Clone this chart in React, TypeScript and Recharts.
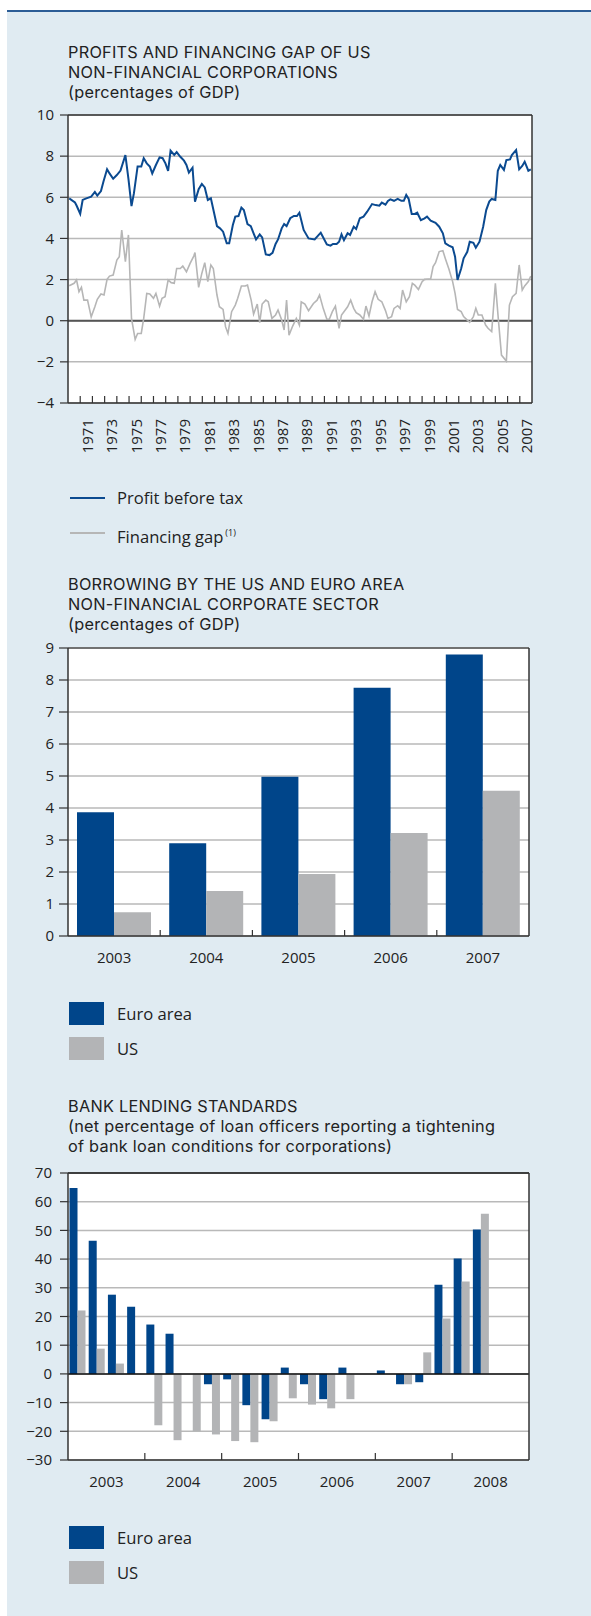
import React from "react";
import {
  LineChart,
  Line,
  BarChart,
  Bar,
  XAxis,
  YAxis,
  CartesianGrid,
  ReferenceLine,
} from "recharts";

const FONT = '"Open Sans", "Noto Sans", sans-serif';
const TITLE_FONT = 'Inter, "Open Sans", sans-serif';
const TEXT = "#222";
const BG = "#e0ebf2";
const BLUE = "#00458a";
const BAR_GREY = "#b3b4b6";
const LINE_BLUE = "#0b4a90";
const LINE_GREY = "#b6b6b6";
const GRID = "#b9b9b9";
const AXIS = "#333";

// chart 1: profits / financing gap, [year, % of GDP]
const PROFIT_POINTS: [number, number][] = [
  [1970.1, 5.95], [1970.57, 5.75], [1970.7, 5.6], [1971.0, 5.2], [1971.2, 5.87], [1971.5, 5.95],
  [1971.9, 6.03], [1972.2, 6.26], [1972.4, 6.08], [1972.7, 6.3], [1972.9, 6.76], [1973.2, 7.36],
  [1973.4, 7.16], [1973.7, 6.9], [1974.0, 7.08], [1974.3, 7.3], [1974.7, 8.05], [1974.95, 6.9],
  [1975.2, 5.57], [1975.4, 6.2], [1975.7, 7.5], [1976.0, 7.5], [1976.2, 7.9], [1976.45, 7.65],
  [1976.7, 7.5], [1976.9, 7.16], [1977.2, 7.57], [1977.5, 7.94], [1977.75, 7.9], [1977.98, 7.65],
  [1978.2, 7.28], [1978.4, 8.27], [1978.7, 8.06], [1978.9, 8.2], [1979.2, 7.97], [1979.5, 7.78],
  [1979.7, 7.57], [1979.9, 7.2], [1980.2, 7.44], [1980.4, 5.79], [1980.7, 6.39], [1980.96, 6.65],
  [1981.2, 6.48], [1981.45, 5.87], [1981.7, 5.95], [1982.2, 4.6], [1982.45, 4.49], [1982.7, 4.33],
  [1983.0, 3.76], [1983.2, 3.76], [1983.5, 4.65], [1983.7, 5.06], [1983.96, 5.09], [1984.2, 5.5],
  [1984.4, 5.38], [1984.7, 4.7], [1984.97, 4.6], [1985.2, 4.25], [1985.4, 3.95], [1985.7, 4.2],
  [1985.9, 4.05], [1986.2, 3.22], [1986.5, 3.19], [1986.75, 3.3], [1987.0, 3.73], [1987.2, 3.95],
  [1987.5, 4.49], [1987.7, 4.7], [1987.9, 4.6], [1988.2, 4.98], [1988.5, 5.09], [1988.75, 5.09],
  [1988.95, 5.25], [1989.3, 4.41], [1989.7, 4.0], [1990.2, 3.95], [1990.7, 4.28], [1991.2, 3.71],
  [1991.5, 3.65], [1991.7, 3.73], [1992.0, 3.73], [1992.2, 3.84], [1992.4, 4.2], [1992.6, 3.92],
  [1992.9, 4.25], [1993.1, 4.17], [1993.4, 4.57], [1993.6, 4.46], [1993.9, 4.98], [1994.2, 5.06],
  [1994.5, 5.3], [1994.9, 5.67], [1995.2, 5.62], [1995.5, 5.59], [1995.7, 5.74], [1996.0, 5.64],
  [1996.2, 5.82], [1996.4, 5.9], [1996.7, 5.83], [1997.0, 5.92], [1997.3, 5.83], [1997.5, 5.83],
  [1997.7, 6.11], [1997.9, 5.92], [1998.15, 5.19], [1998.4, 5.19], [1998.6, 5.25], [1998.9, 4.89],
  [1999.2, 4.98], [1999.4, 5.06], [1999.7, 4.86], [2000.1, 4.76], [2000.4, 4.57], [2000.7, 4.25],
  [2000.9, 3.76], [2001.2, 3.65], [2001.5, 3.57], [2001.7, 3.11], [2001.9, 1.98], [2002.2, 2.54],
  [2002.4, 3.03], [2002.7, 3.35], [2002.9, 3.84], [2003.2, 3.79], [2003.4, 3.55], [2003.7, 3.84],
  [2004.0, 4.57], [2004.25, 5.38], [2004.5, 5.79], [2004.7, 5.92], [2005.0, 5.87], [2005.2, 7.29],
  [2005.4, 7.57], [2005.7, 7.33], [2005.9, 7.81], [2006.2, 7.84], [2006.35, 8.05], [2006.7, 8.3],
  [2006.95, 7.36], [2007.2, 7.52], [2007.4, 7.73], [2007.7, 7.29], [2007.9, 7.36],
];

const GAP_POINTS: [number, number][] = [
  [1970.1, 1.7], [1970.5, 1.82], [1970.7, 1.98], [1970.9, 1.41], [1971.1, 1.62], [1971.3, 1.0],
  [1971.6, 1.0], [1971.9, 0.19], [1972.2, 0.68], [1972.4, 1.04], [1972.7, 1.3], [1972.95, 1.25],
  [1973.2, 2.01], [1973.4, 2.17], [1973.7, 2.22], [1974.0, 2.95], [1974.2, 3.11], [1974.4, 4.41],
  [1974.7, 2.87], [1974.95, 4.17], [1975.2, 0.11], [1975.5, -0.91], [1975.7, -0.62], [1976.0, -0.62],
  [1976.2, 0.11], [1976.45, 1.33], [1976.7, 1.3], [1977.0, 1.09], [1977.2, 1.33], [1977.5, 0.71],
  [1977.7, 1.09], [1977.95, 1.17], [1978.2, 1.98], [1978.45, 1.85], [1978.7, 1.82], [1978.9, 2.54],
  [1979.2, 2.54], [1979.4, 2.66], [1979.7, 2.38], [1980.0, 2.79], [1980.3, 3.14], [1980.4, 3.31],
  [1980.7, 1.62], [1980.96, 2.3], [1981.2, 2.82], [1981.45, 1.9], [1981.7, 2.71], [1981.9, 2.54],
  [1982.2, 1.25], [1982.4, 0.68], [1982.7, 0.55], [1982.9, -0.29], [1983.1, -0.62], [1983.4, 0.44],
  [1983.7, 0.76], [1983.9, 1.09], [1984.2, 1.69], [1984.5, 1.69], [1984.7, 1.73], [1985.0, 1.0],
  [1985.2, 0.32], [1985.5, 0.81], [1985.7, -0.1], [1985.9, 0.81], [1986.2, 1.0], [1986.4, 0.92],
  [1986.7, 0.11], [1987.0, 0.28], [1987.2, 0.52], [1987.5, 0.03], [1987.7, -0.45], [1987.9, 1.0],
  [1988.1, -0.7], [1988.4, -0.26], [1988.7, 0.11], [1988.95, -0.21], [1989.1, 0.92], [1989.4, 0.81],
  [1989.7, 0.49], [1990.1, 0.84], [1990.4, 1.0], [1990.6, 1.25], [1990.9, 0.6], [1991.2, 0.07],
  [1991.4, 0.07], [1991.65, 0.44], [1991.9, 0.71], [1992.2, -0.37], [1992.4, 0.28], [1992.6, 0.44],
  [1992.9, 0.68], [1993.15, 1.0], [1993.4, 0.6], [1993.6, 0.39], [1993.9, 0.28], [1994.2, 0.07],
  [1994.4, 0.71], [1994.65, 0.23], [1994.9, 0.92], [1995.15, 1.41], [1995.4, 1.04], [1995.7, 0.92],
  [1996.0, 0.49], [1996.2, 0.11], [1996.5, 0.2], [1996.7, 0.6], [1997.0, 0.73], [1997.2, 0.6],
  [1997.4, 1.49], [1997.7, 0.92], [1997.96, 1.17], [1998.2, 1.82], [1998.4, 1.73], [1998.7, 1.52],
  [1999.0, 1.9], [1999.2, 2.01], [1999.5, 2.03], [1999.7, 2.03], [1999.9, 2.63], [2000.1, 2.82],
  [2000.4, 3.36], [2000.7, 3.4], [2000.9, 3.03], [2001.2, 2.5], [2001.5, 1.9], [2001.7, 1.33],
  [2001.9, 0.55], [2002.2, 0.44], [2002.4, 0.2], [2002.7, 0.03], [2002.9, -0.08], [2003.2, 0.2],
  [2003.4, 0.6], [2003.6, 0.28], [2003.9, 0.28], [2004.2, -0.21], [2004.4, -0.37], [2004.7, -0.53],
  [2005.0, 1.82], [2005.25, 0.03], [2005.5, -1.67], [2005.9, -1.96], [2006.15, 0.76], [2006.4, 1.17],
  [2006.7, 1.33], [2006.95, 2.71], [2007.2, 1.49], [2007.4, 1.69], [2007.7, 1.9], [2007.9, 2.17],
];

const YEAR_TICKS_1 = [
  1970, 1971, 1972, 1973, 1974, 1975, 1976, 1977, 1978, 1979, 1980, 1981, 1982, 1983, 1984,
  1985, 1986, 1987, 1988, 1989, 1990, 1991, 1992, 1993, 1994, 1995, 1996, 1997, 1998, 1999,
  2000, 2001, 2002, 2003, 2004, 2005, 2006, 2007, 2008,
];
const Y_TICKS_1 = [-4, -2, 0, 2, 4, 6, 8, 10];

// chart 2: borrowing
const YEARS_2 = ["2003", "2004", "2005", "2006", "2007"];
const EURO_2 = [3.87, 2.9, 4.98, 7.76, 8.8];
const US_2 = [0.74, 1.41, 1.94, 3.22, 4.54];
const Y_TICKS_2 = [0, 1, 2, 3, 4, 5, 6, 7, 8, 9];

// chart 3: bank lending standards, quarterly 2003Q1-2008Q4
const YEARS_3 = ["2003", "2004", "2005", "2006", "2007", "2008"];
const EURO_3 = [
  64.8, 46.4, 27.6, 23.4,
  17.2, 14.0, 0, -3.6,
  -1.9, -10.9, -15.8, 2.2,
  -3.6, -8.8, 2.2, 0,
  1.2, -3.6, -2.9, 31.1,
  40.2, 50.3, null, null,
];
const US_3 = [
  22.1, 8.8, 3.6, 0,
  -17.9, -23.1, -20.0, -21.1,
  -23.4, -23.8, -16.5, -8.5,
  -10.7, -12.0, -8.8, 0,
  0, -3.6, 7.5, 19.3,
  32.2, 55.8, null, null,
];
const Y_TICKS_3 = [-30, -20, -10, 0, 10, 20, 30, 40, 50, 60, 70];

const fmt = (v: number) => String(v).replace("-", "\u2212");

const PLOT_L = 68;
const PLOT_R1 = 532;
const PLOT_R2 = 529;
const YEAR_PX = (PLOT_R1 - PLOT_L) / 38;
const BAND_2 = (PLOT_R2 - PLOT_L) / YEARS_2.length;
const BAND_3 = (PLOT_R2 - PLOT_L) / 24;

const tickStyle = { fontSize: 15, fill: TEXT, fontFamily: FONT };

function YearTick({ x, y, payload }: any) {
  const yr = payload.value;
  return (
    <g>
      {yr > 1970 && yr < 2008 && (
        <line x1={x} x2={x} y1={y} y2={y - 7} stroke={AXIS} strokeWidth={1.2} />
      )}
      {yr % 2 === 1 && yr <= 2007 && (
        <text
          transform={`translate(${x + YEAR_PX * 0.58}, ${y + 16}) rotate(-90)`}
          textAnchor="end"
          dy="0.36em"
          {...tickStyle}
        >
          {yr}
        </text>
      )}
    </g>
  );
}

function BorrowTick({ x, y, payload, index }: any) {
  return (
    <g>
      {index > 0 && (
        <line x1={x - BAND_2 / 2} x2={x - BAND_2 / 2} y1={y} y2={y - 6} stroke={AXIS} strokeWidth={1.2} />
      )}
      <text x={x} y={y + 22} textAnchor="middle" dy="0.36em" {...tickStyle}>
        {payload.value}
      </text>
    </g>
  );
}

function QuarterTick({ x, y, index }: any) {
  return (
    <g>
      {index % 4 === 0 && index > 0 && (
        <line x1={x - BAND_3 / 2} x2={x - BAND_3 / 2} y1={y} y2={y - 7} stroke={AXIS} strokeWidth={1.2} />
      )}
      {index % 4 === 1 && (
        <text x={x + BAND_3 / 2} y={y + 22} textAnchor="middle" dy="0.36em" {...tickStyle}>
          {YEARS_3[Math.floor(index / 4)]}
        </text>
      )}
    </g>
  );
}

function Title({ top, lines }: { top: number; lines: string[] }) {
  return (
    <div
      style={{
        position: "absolute",
        left: PLOT_L,
        top,
        fontFamily: TITLE_FONT,
        fontSize: 16.3,
        letterSpacing: 0.25,
        lineHeight: "20px",
        whiteSpace: "nowrap",
        color: TEXT,
      }}
    >
      {lines.map((l) => (
        <div key={l}>{l}</div>
      ))}
    </div>
  );
}

function LegendRow({ top, color, label, line, width }: any) {
  return (
    <div style={{ position: "absolute", left: 69, top, height: 24, width: 300 }}>
      {line ? (
        <div style={{ position: "absolute", left: 1, top: 12 - width / 2, width: 35, height: width, background: color }} />
      ) : (
        <div style={{ position: "absolute", left: 0, top: 0, width: 35, height: 23, background: color }} />
      )}
      <div style={{ position: "absolute", left: 48, top: 0, lineHeight: "24px", fontSize: 16.6, color: TEXT, whiteSpace: "nowrap" }}>
        {label}
      </div>
    </div>
  );
}

export default function App() {
  const profitData = PROFIT_POINTS.map(([x, v]) => ({ x, v }));
  const gapData = GAP_POINTS.map(([x, v]) => ({ x, v }));
  const data2 = YEARS_2.map((year, i) => ({ year, euro: EURO_2[i], us: US_2[i] }));
  const data3 = EURO_3.map((e, i) => ({ q: `${YEARS_3[Math.floor(i / 4)]}Q${(i % 4) + 1}`, euro: e, us: US_3[i] }));

  return (
    <div
      style={{
        position: "absolute",
        left: 0,
        top: 0,
        width: 591,
        height: 1616,
        background: "#fff",
        fontFamily: FONT,
        overflow: "hidden",
      }}
    >
      <div style={{ position: "absolute", left: 7, top: 10, right: 0, height: 2, background: "#2c5d96" }} />
      <div style={{ position: "absolute", left: 7, top: 12, right: 0, bottom: 0, background: BG }} />

      {/* chart 1 */}
      <Title top={42} lines={["PROFITS AND FINANCING GAP OF US", "NON-FINANCIAL CORPORATIONS", "(percentages of GDP)"]} />
      <div style={{ position: "absolute", left: 0, top: 105 }}>
        <LineChart width={591} height={358} margin={{ top: 10, right: 0, bottom: 0, left: 0 }}>
          <CartesianGrid vertical={false} fill="#fff" stroke={GRID} strokeWidth={1.5} />
          <XAxis
            type="number"
            dataKey="x"
            domain={[1970, 2008]}
            ticks={YEAR_TICKS_1}
            interval={0}
            allowDataOverflow
            height={60}
            tickSize={0}
            tickMargin={0}
            tick={<YearTick />}
            axisLine={{ stroke: AXIS, strokeWidth: 1.5 }}
          />
          <YAxis
            domain={[-4, 10]}
            ticks={Y_TICKS_1}
            width={PLOT_L}
            tickSize={8}
            tickMargin={6}
            tickFormatter={fmt}
            tick={tickStyle}
            tickLine={{ stroke: AXIS, strokeWidth: 1.2 }}
            axisLine={{ stroke: AXIS, strokeWidth: 1.5 }}
          />
          <YAxis
            yAxisId="r"
            orientation="right"
            domain={[-4, 10]}
            ticks={Y_TICKS_1}
            width={591 - PLOT_R1}
            tickSize={8}
            tickMargin={5}
            tickFormatter={fmt}
            tick={tickStyle}
            tickLine={{ stroke: AXIS, strokeWidth: 1.2 }}
            axisLine={{ stroke: AXIS, strokeWidth: 1.5 }}
          />
          <ReferenceLine y={0} stroke="#555" strokeWidth={2} />
          <ReferenceLine y={10} stroke={AXIS} strokeWidth={1.5} />
          <Line data={gapData} dataKey="v" type="linear" stroke={LINE_GREY} strokeWidth={1.6} dot={false} isAnimationActive={false} />
          <Line data={profitData} dataKey="v" type="linear" stroke={LINE_BLUE} strokeWidth={2} dot={false} isAnimationActive={false} />
        </LineChart>
      </div>
      <LegendRow top={486} color={LINE_BLUE} line width={2} label="Profit before tax" />
      <LegendRow
        top={521}
        color={LINE_GREY}
        line
        width={1.5}
        label={
          <span>
            Financing gap<sup style={{ fontSize: 9, marginLeft: 2 }}>(1)</sup>
          </span>
        }
      />

      {/* chart 2 */}
      <Title top={574} lines={["BORROWING BY THE US AND EURO AREA", "NON-FINANCIAL CORPORATE SECTOR", "(percentages of GDP)"]} />
      <div style={{ position: "absolute", left: 0, top: 638 }}>
        <BarChart width={591} height={338} data={data2} margin={{ top: 10, right: 0, bottom: 0, left: 0 }} barCategoryGap={9} barGap={0}>
          <CartesianGrid vertical={false} fill="#fff" stroke={GRID} strokeWidth={1.5} />
          <XAxis
            dataKey="year"
            interval={0}
            height={40}
            tickSize={0}
            tickMargin={0}
            tick={<BorrowTick />}
            axisLine={{ stroke: AXIS, strokeWidth: 1.5 }}
          />
          <YAxis
            domain={[0, 9]}
            ticks={Y_TICKS_2}
            width={PLOT_L}
            tickSize={9}
            tickMargin={5}
            tick={tickStyle}
            tickLine={{ stroke: AXIS, strokeWidth: 1.2 }}
            axisLine={{ stroke: AXIS, strokeWidth: 1.5 }}
          />
          <YAxis
            yAxisId="r"
            orientation="right"
            domain={[0, 9]}
            ticks={Y_TICKS_2}
            width={591 - PLOT_R2}
            tickSize={9}
            tickMargin={5}
            tick={tickStyle}
            tickLine={{ stroke: AXIS, strokeWidth: 1.2 }}
            axisLine={{ stroke: AXIS, strokeWidth: 1.5 }}
          />
          <ReferenceLine y={9} stroke="#555" strokeWidth={1.5} />
          <Bar dataKey="euro" fill={BLUE} isAnimationActive={false} />
          <Bar dataKey="us" fill={BAR_GREY} isAnimationActive={false} />
        </BarChart>
      </div>
      <LegendRow top={1002} color={BLUE} label="Euro area" />
      <LegendRow top={1037} color={BAR_GREY} label="US" />

      {/* chart 3 */}
      <Title
        top={1096}
        lines={[
          "BANK LENDING STANDARDS",
          "(net percentage of loan officers reporting a tightening",
          "of bank loan conditions for corporations)",
        ]}
      />
      <div style={{ position: "absolute", left: 0, top: 1163 }}>
        <BarChart width={591} height={337} data={data3} margin={{ top: 10, right: 0, bottom: 0, left: 0 }} barCategoryGap={1.5} barGap={0}>
          <CartesianGrid vertical={false} fill="#fff" stroke={GRID} strokeWidth={1.5} />
          <XAxis
            dataKey="q"
            interval={0}
            height={40}
            tickSize={0}
            tickMargin={0}
            tick={<QuarterTick />}
            axisLine={{ stroke: AXIS, strokeWidth: 1.5 }}
          />
          <YAxis
            domain={[-30, 70]}
            ticks={Y_TICKS_3}
            width={PLOT_L}
            tickSize={8}
            tickMargin={8}
            tickFormatter={fmt}
            tick={tickStyle}
            tickLine={{ stroke: AXIS, strokeWidth: 1.2 }}
            axisLine={{ stroke: AXIS, strokeWidth: 1.5 }}
          />
          <YAxis
            yAxisId="r"
            orientation="right"
            domain={[-30, 70]}
            ticks={Y_TICKS_3}
            width={591 - PLOT_R2}
            tickSize={9}
            tickMargin={5}
            tickFormatter={fmt}
            tick={tickStyle}
            tickLine={{ stroke: AXIS, strokeWidth: 1.2 }}
            axisLine={{ stroke: AXIS, strokeWidth: 1.5 }}
          />
          <ReferenceLine y={70} stroke="#111" strokeWidth={1.5} />
          <Bar dataKey="euro" fill={BLUE} isAnimationActive={false} />
          <Bar dataKey="us" fill={BAR_GREY} isAnimationActive={false} />
          <ReferenceLine y={0} stroke="#111" strokeWidth={1.5} />
        </BarChart>
      </div>
      <LegendRow top={1526} color={BLUE} label="Euro area" />
      <LegendRow top={1561} color={BAR_GREY} label="US" />
    </div>
  );
}
